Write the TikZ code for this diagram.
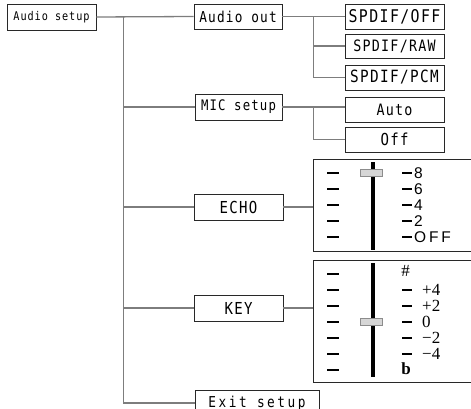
\documentclass[tikz,border=0pt]{standalone}
\usepackage{fontspec}
\usepackage{tikz}
\usetikzlibrary{calc}
\newfontfamily\menufont[FakeStretch=0.85,LetterSpace=8]{DejaVu Sans Mono}
\newfontfamily\echofont[LetterSpace=18]{Liberation Sans}
\newfontfamily\keyfont{Liberation Serif}
\definecolor{menuline}{RGB}{125,125,125}
\definecolor{menuedge}{RGB}{40,40,40}
\definecolor{knobfill}{RGB}{214,214,214}
\tikzset{
  msize/.style={font=\menufont\fontsize{#1}{#1}\selectfont},
  menubox/.style={draw=menuedge, line width=0.9pt, inner sep=0pt,
    minimum width=89pt, minimum height=26pt, align=center},
  optbox/.style={menubox, minimum width=99pt, minimum height=25pt},
  panel/.style={draw=menuedge, line width=0.9pt, inner sep=0pt, anchor=north west,
    minimum width=180pt},
  link/.style={draw=menuline, line width=1.3pt},
  scaletick/.style={draw=black, line width=2pt},
  rail/.style={draw=black, line width=4pt},
  knob/.style={draw=black!45, fill=knobfill, line width=0.6pt},
  echolabel/.style={anchor=west, inner sep=0pt, font=\echofont\fontsize{15.5}{15.5}\selectfont},
  keylabel/.style={anchor=west, inner sep=0pt, font=\keyfont\fontsize{17}{17}\selectfont}
}
\begin{document}
\begin{tikzpicture}[x=1pt, y=-1pt]
  \useasboundingbox (0,0) rectangle (471,409);
  \clip (0,0) rectangle (471,409);

  \node[menubox, msize=12] (aset) at (51.5,17) {Audio setup};
  \node[menubox, msize=15, minimum width=88pt, minimum height=25pt] (aout) at (238,16.5) {Audio out};
  \node[menubox, msize=14.5, minimum width=87pt] (mic) at (238.5,107) {MIC setup};
  \node[menubox, msize=16.5] (echo) at (238.5,207) {ECHO};
  \node[menubox, msize=16.5] (key) at (238.5,308) {KEY};
  \node[menubox, minimum width=124pt,
    font=\menufont\addfontfeature{LetterSpace=17}\fontsize{15}{15}\selectfont] (exit) at (257,403) {Exit setup};

  \node[optbox, msize=17.5] (spoff) at (394.5,16.5) {SPDIF/OFF};
  \node[optbox, msize=15.7, minimum height=24pt] (spraw) at (394.5,46) {SPDIF/RAW};
  \node[optbox, msize=16.9] (sppcm) at (394.5,77.5) {SPDIF/PCM};
  \node[optbox, msize=15.7] (auto) at (394.5,109.5) {Auto};
  \node[optbox, msize=16.5] (off) at (394.5,139.5) {Off};

  \node[panel, minimum height=92pt] (echopanel) at (313,159) {};
  \node[panel, minimum height=122pt] (keypanel) at (313,260) {};

  % main menu tree
  \coordinate (trunk) at ($(aset.east)+(27,0)$);
  \draw[link] (aset.east) -- (aout.west);
  \draw[link] (trunk) |- (exit.west);
  \draw[link] (trunk |- mic) -- (mic.west);
  \draw[link] (trunk |- echo) -- (echo.west);
  \draw[link] (trunk |- key) -- (key.west);

  % sub menus
  \coordinate (outfork) at ($(aout.east)!0.5!(spoff.west)$);
  \draw[link] (aout.east) -- (spoff.west);
  \draw[link] (outfork) |- (sppcm.west);
  \draw[link] (outfork |- spraw) -- (spraw.west);
  \coordinate (micfork) at ($(mic.east)!0.5!(mic.east -| auto.west)$);
  \draw[link] (mic.east) -- (mic.east -| auto.west);
  \draw[link] (micfork) |- (off.west);
  \draw[link] (echo.east) -- (echo.east -| echopanel.west);
  \draw[link] (key.east) -- (key.east -| keypanel.west);

  % echo scale
  \foreach \lbl [count=\i from 0] in {8,6,4,2,OFF} {
    \draw[scaletick] (327,173+16*\i) -- (339,173+16*\i);
    \draw[scaletick] (402,173+16*\i) -- (412,173+16*\i);
    \node[echolabel] (echo\i) at (414,173+16*\i) {\lbl};
  }
  \draw[rail] (373,162) -- (373,250);
  \draw[knob] (360,169) rectangle (382,176);

  % key scale
  \foreach \i in {0,...,6}
    \draw[scaletick] (327,274+16*\i) -- (339,274+16*\i);
  \foreach \lbl [count=\i from 1] in {+4,+2,0,−2,−4} {
    \draw[scaletick] (402,274+16*\i) -- (412,274+16*\i);
    \node[keylabel] (key\i) at (422,274+16*\i) {\lbl};
  }
  \node[keylabel, anchor=center] (sharp) at (405.5,270.5) {\#};
  \node[keylabel, anchor=center, font=\keyfont\bfseries\fontsize{17}{17}\selectfont] (flat) at (406,369) {b};
  \draw[rail] (373,263) -- (373,377);
  \draw[knob] (360,318) rectangle (382,325);
\end{tikzpicture}
\end{document}
